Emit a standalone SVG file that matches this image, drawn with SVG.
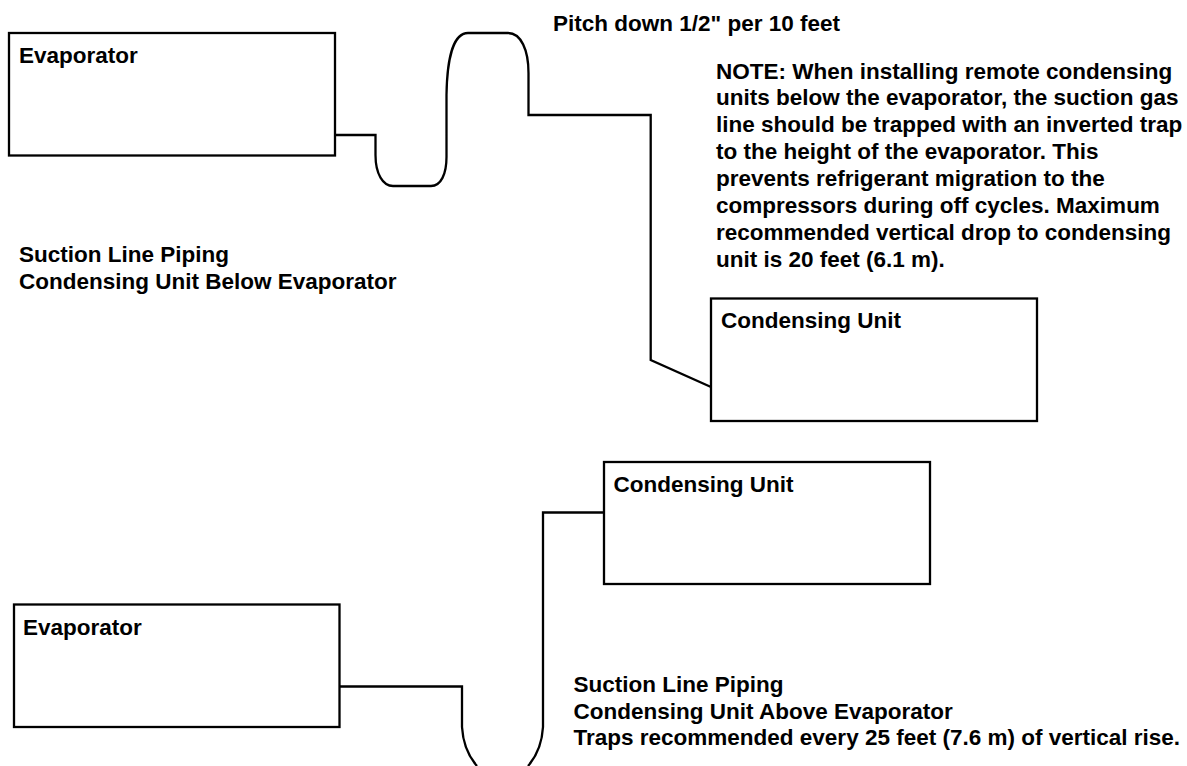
<svg xmlns="http://www.w3.org/2000/svg" width="1187" height="766" viewBox="0 0 1187 766">
<style>
.b{fill:#fff;stroke:#000;stroke-width:2.300}
.p{fill:none;stroke:#000;stroke-width:2.300}
text{font-family:"Liberation Sans",Arial,sans-serif;font-weight:700;font-size:22.500px;fill:#000}
</style>
<rect width="1187" height="766" fill="#fff"/>
<g id="evaporator-top"><rect class="b" x="9" y="33" width="326" height="122.500"/><text x="19" y="62.500">Evaporator</text></g>
<g id="condensing-top"><rect class="b" x="711" y="298.500" width="326" height="122.500"/><text x="721" y="328">Condensing Unit</text></g>
<g id="condensing-bottom"><rect class="b" x="604" y="462" width="326" height="122"/><text x="613.500" y="492">Condensing Unit</text></g>
<g id="evaporator-bottom"><rect class="b" x="14" y="604.500" width="325.500" height="122.500"/><text x="23" y="635">Evaporator</text></g>
<g id="connectors">
<path class="p" d="M335 135H375.500V155C375.500 174 383 186 393 186H431C441 186 446.500 174 446.500 157V95C447 60 453 33 468 33H508C521 33 528.500 50 528.500 73V115H650.700V360L711 387"/>
<path class="p" d="M339.500 686.500H462V727C463 745 470 758 477 766M604 512.500H543V727C542 745 535 758 528 766"/>
</g>
<g id="labels">
<text x="553" y="30.500">Pitch down 1/2" per 10 feet</text>
<text x="716" y="78.500">NOTE: When installing remote condensing</text>
<text x="716" y="105">units below the evaporator, the suction gas</text>
<text x="716" y="131.500">line should be trapped with an inverted trap</text>
<text x="716" y="158.500">to the height of the evaporator. This</text>
<text x="716" y="185.500">prevents refrigerant migration to the</text>
<text x="716" y="212.500">compressors during off cycles. Maximum</text>
<text x="716" y="239.500">recommended vertical drop to condensing</text>
<text x="716" y="266.500">unit is 20 feet (6.1 m).</text>
<text x="19" y="261.500">Suction Line Piping</text>
<text x="19" y="289">Condensing Unit Below Evaporator</text>
<text x="573.500" y="692">Suction Line Piping</text>
<text x="573.500" y="718.500">Condensing Unit Above Evaporator</text>
<text x="573.500" y="745">Traps recommended every 25 feet (7.6 m) of vertical rise.</text>
</g>
</svg>
